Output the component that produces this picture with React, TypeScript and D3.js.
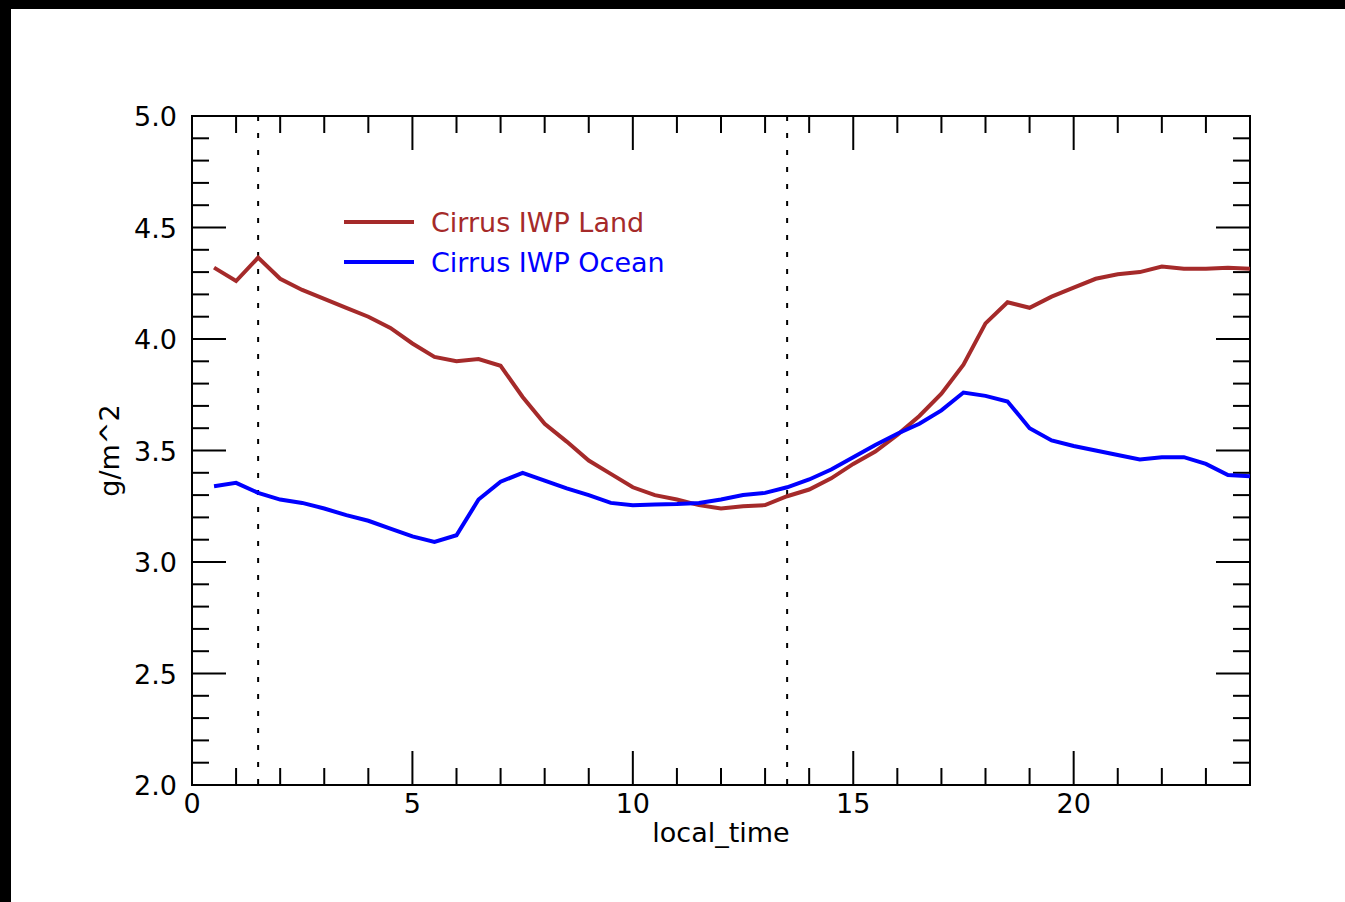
import * as d3 from "d3";

const W = 1345;
const H = 902;
const MARGIN = { top: 116, right: 95, bottom: 117, left: 192 };

const hours = [
  0.5, 1, 1.5, 2, 2.5, 3, 3.5, 4, 4.5, 5, 5.5, 6, 6.5, 7, 7.5, 8, 8.5, 9, 9.5, 10,
  10.5, 11, 11.5, 12, 12.5, 13, 13.5, 14, 14.5, 15, 15.5, 16, 16.5, 17, 17.5, 18,
  18.5, 19, 19.5, 20, 20.5, 21, 21.5, 22, 22.5, 23, 23.5, 24,
];

const landIWP = [
  4.32, 4.26, 4.365, 4.27, 4.22, 4.18, 4.14, 4.1, 4.05, 3.98, 3.92, 3.9, 3.91, 3.88,
  3.74, 3.62, 3.54, 3.455, 3.395, 3.335, 3.3, 3.28, 3.255, 3.24, 3.25, 3.255, 3.295,
  3.325, 3.375, 3.44, 3.495, 3.57, 3.655, 3.755, 3.885, 4.07, 4.165, 4.14, 4.19, 4.23,
  4.27, 4.29, 4.3, 4.325, 4.315, 4.315, 4.32, 4.315,
];

const oceanIWP = [
  3.34, 3.355, 3.31, 3.28, 3.265, 3.24, 3.21, 3.185, 3.15, 3.115, 3.09, 3.12, 3.28,
  3.36, 3.4, 3.365, 3.33, 3.3, 3.265, 3.255, 3.258, 3.26, 3.265, 3.28, 3.3, 3.31,
  3.335, 3.37, 3.415, 3.47, 3.525, 3.575, 3.62, 3.68, 3.76, 3.745, 3.72, 3.6, 3.545,
  3.52, 3.5, 3.48, 3.46, 3.47, 3.47, 3.44, 3.39, 3.385,
];

const dottedHours = [1.5, 13.5];

const series = [
  { name: "Cirrus IWP Land", color: "#a52a2a", values: landIWP },
  { name: "Cirrus IWP Ocean", color: "#0000ff", values: oceanIWP },
];

const FONT = "DejaVu Sans, sans-serif";
const FS = 27;

export default function App() {
  const innerW = W - MARGIN.left - MARGIN.right;
  const innerH = H - MARGIN.top - MARGIN.bottom;

  const x = d3.scaleLinear().domain([0, 24]).range([0, innerW]);
  const y = d3.scaleLinear().domain([2, 5]).range([innerH, 0]);

  const xMinor = d3.range(0, 25, 1);
  const xMajor = [0, 5, 10, 15, 20];
  const yMinor = d3.range(20, 51, 1).map((d) => d / 10);
  const yMajor = [2, 2.5, 3, 3.5, 4, 4.5, 5];

  const line = d3
    .line<number>()
    .x((_, i) => x(hours[i]))
    .y((d) => y(d));

  const isMajorX = (t: number) => t % 5 === 0;
  const isMajorY = (t: number) => Math.abs(t * 2 - Math.round(t * 2)) < 1e-6;

  return (
    <div style={{ position: "absolute", left: 0, top: 0 }}>
      <svg width={W} height={H} style={{ display: "block" }}>
        <rect x={0} y={0} width={W} height={H} fill="#ffffff" />
        <rect x={0} y={0} width={W} height={9} fill="#000000" />
        <rect x={0} y={0} width={11} height={H} fill="#000000" />
        <g transform={`translate(${MARGIN.left},${MARGIN.top})`} fontFamily={FONT}>
          {/* ticks */}
          {xMinor.map((t) => {
            const len = isMajorX(t) ? 34 : 17;
            return (
              <g key={"xt" + t} stroke="#000" strokeWidth={2}>
                <line x1={x(t)} x2={x(t)} y1={innerH} y2={innerH - len} />
                <line x1={x(t)} x2={x(t)} y1={0} y2={len} />
              </g>
            );
          })}
          {yMinor.map((t) => {
            const len = isMajorY(t) ? 34 : 17;
            return (
              <g key={"yt" + t} stroke="#000" strokeWidth={2}>
                <line x1={0} x2={len} y1={y(t)} y2={y(t)} />
                <line x1={innerW} x2={innerW - len} y1={y(t)} y2={y(t)} />
              </g>
            );
          })}
          <rect
            x={0}
            y={0}
            width={innerW}
            height={innerH}
            fill="none"
            stroke="#000"
            strokeWidth={2}
          />
          {/* tick labels */}
          {xMajor.map((t) => (
            <text key={"xl" + t} x={x(t)} y={innerH + 28} textAnchor="middle" fontSize={FS}>
              {t}
            </text>
          ))}
          {yMajor.map((t) => (
            <text key={"yl" + t} x={-15} y={y(t) + 10} textAnchor="end" fontSize={FS}>
              {t.toFixed(1)}
            </text>
          ))}
          {/* dotted reference lines */}
          {dottedHours.map((h) => (
            <line
              key={"d" + h}
              x1={x(h)}
              x2={x(h)}
              y1={0}
              y2={innerH}
              stroke="#000"
              strokeWidth={2}
              strokeDasharray="5 12"
            />
          ))}
          {/* data */}
          {series.map((s) => (
            <path
              key={s.name}
              d={line(s.values) || ""}
              fill="none"
              stroke={s.color}
              strokeWidth={4}
            />
          ))}
          {/* legend */}
          {series.map((s, i) => (
            <g key={"lg" + s.name} transform={`translate(152,${106 + i * 40})`}>
              <line x1={0} x2={70} y1={0} y2={0} stroke={s.color} strokeWidth={4} />
              <text x={87} y={10} fill={s.color} fontSize={FS}>
                {s.name}
              </text>
            </g>
          ))}
          {/* axis titles */}
          <text x={innerW / 2} y={innerH + 57} textAnchor="middle" fontSize={FS}>
            local_time
          </text>
          <text
            transform={`translate(-73,${innerH / 2}) rotate(-90)`}
            textAnchor="middle"
            fontSize={FS}
          >
            g/m^2
          </text>
        </g>
      </svg>
    </div>
  );
}
